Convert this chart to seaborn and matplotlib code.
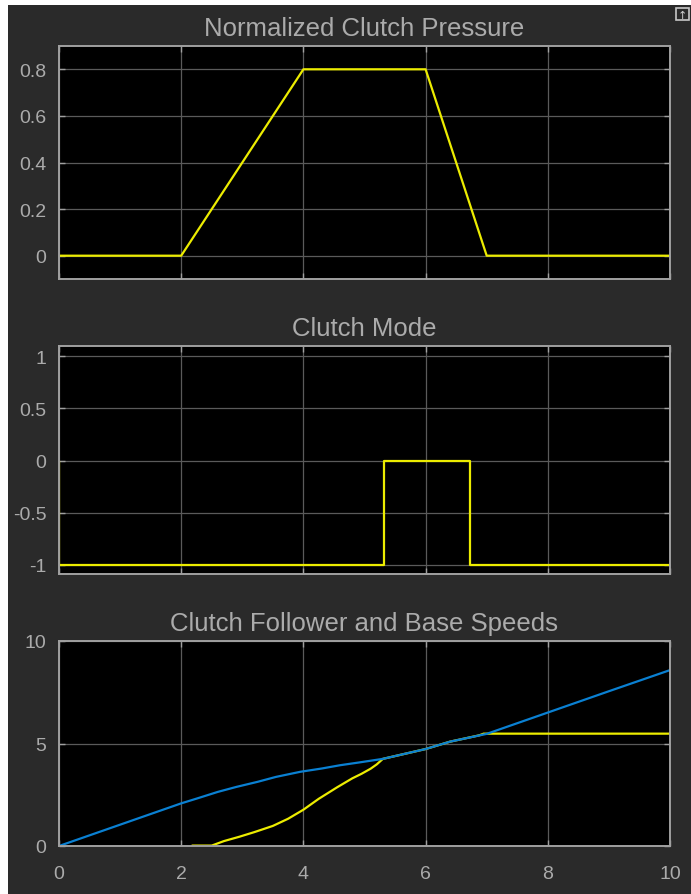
import numpy as np
import pandas as pd
import matplotlib
matplotlib.use("Agg")
import matplotlib.pyplot as plt
from matplotlib.patches import Rectangle
import seaborn as sns

# ---------------- data ----------------
pressure_t = [0, 2, 4, 6, 7, 10]
pressure_v = [0, 0, 0.8, 0.8, 0, 0]

mode_t = [0, 0, 5.32, 5.32, 6.72, 6.72, 10]
mode_v = [0, -1, -1, 0, 0, -1, -1]

base_t = [0, 2, 2.25, 2.6, 2.9, 3.25, 3.55, 3.95, 4.3, 4.6, 4.9, 5.3, 6.0, 6.4, 7.0, 8.0, 9.0, 10.0]
base_v = [0, 2.08, 2.31, 2.64, 2.88, 3.13, 3.37, 3.62, 3.78, 3.94, 4.07, 4.25, 4.73, 5.09, 5.47, 6.51, 7.55, 8.58]

foll_t = [2.18, 2.5, 2.6, 2.7, 2.95, 3.2, 3.5, 3.75, 4.0, 4.25, 4.55, 4.8, 4.95, 5.1, 5.2, 5.3,
          6.0, 6.4, 6.88, 6.95, 10.0]
foll_v = [0.02, 0.02, 0.13, 0.24, 0.45, 0.68, 0.98, 1.33, 1.77, 2.3, 2.86, 3.3, 3.52, 3.77, 3.98, 4.25,
          4.73, 5.09, 5.40, 5.48, 5.48]

titles = ["Normalized Clutch Pressure", "Clutch Mode", "Clutch Follower and Base Speeds"]
x_ticks = [0, 2, 4, 6, 8, 10]
p_yticks = [0, 0.2, 0.4, 0.6, 0.8]
p_ylabels = ["0", "0.2", "0.4", "0.6", "0.8"]
m_yticks = [-1, -0.5, 0, 0.5, 1]
m_ylabels = ["-1", "-0.5", "0", "0.5", "1"]
s_yticks = [0, 5, 10]
s_ylabels = ["0", "5", "10"]

# ---------------- style ----------------
sns.set_theme(style="dark")
FIG_BG = "#2a2a2a"
TXT = "#ababab"
SPINE = "#a0a0a0"
GRID = "#5a5a5a"
YEL = "#ecec00"
BLUE = "#0a80d2"
plt.rcParams["font.family"] = ["Liberation Sans", "DejaVu Sans"]

W, H = 691, 895
fig = plt.figure(figsize=(W / 100, H / 100), dpi=100, facecolor="white")
fig.patches.append(Rectangle((8 / W, 0), 1, (H - 6) / H, transform=fig.transFigure,
                             facecolor=FIG_BG, edgecolor="none", zorder=-10))

left, right = 59 / W, 670 / W
boxes = [(47, 280), (347, 575), (642, 847)]
axes = []
for top, bot in boxes:
    ax = fig.add_axes([left, 1 - bot / H, right - left, (bot - top) / H])
    axes.append(ax)

df_p = pd.DataFrame({"t": pressure_t, "v": pressure_v})
df_m = pd.DataFrame({"t": mode_t, "v": mode_v})
df_b = pd.DataFrame({"t": base_t, "v": base_v})
df_f = pd.DataFrame({"t": foll_t, "v": foll_v})

sns.lineplot(data=df_p, x="t", y="v", ax=axes[0], color=YEL, lw=1.6, sort=False, estimator=None)
sns.lineplot(data=df_m, x="t", y="v", ax=axes[1], color=YEL, lw=1.6, sort=False, estimator=None)
sns.lineplot(data=df_f, x="t", y="v", ax=axes[2], color=YEL, lw=1.6, sort=False, estimator=None)
sns.lineplot(data=df_b, x="t", y="v", ax=axes[2], color=BLUE, lw=1.6, sort=False, estimator=None)

ylims = [(-0.1, 0.9), (-1.09, 1.1), (0, 10)]
yt = [(p_yticks, p_ylabels), (m_yticks, m_ylabels), (s_yticks, s_ylabels)]
for i, ax in enumerate(axes):
    ax.set_facecolor("black")
    ax.set_xlim(0, 10)
    ax.set_ylim(*ylims[i])
    ax.set_xticks(x_ticks)
    ax.set_yticks(yt[i][0])
    ax.set_yticklabels(yt[i][1])
    if i < 2:
        ax.set_xticklabels([])
    else:
        ax.set_xticklabels([str(v) for v in x_ticks])
    ax.set_xlabel("")
    ax.set_ylabel("")
    ax.grid(True, color=GRID, lw=0.9)
    ax.set_axisbelow(True)
    for s in ax.spines.values():
        s.set_visible(True)
        s.set_color(SPINE)
        s.set_linewidth(1.4)
    ax.tick_params(axis="both", direction="in", length=4, width=1, color=SPINE,
                   labelcolor=TXT, labelsize=14, top=True, right=True,
                   bottom=True, left=True)
    ax.tick_params(axis="y", pad=9)
    ax.tick_params(axis="x", pad=14)
    ax.set_title(titles[i], color=TXT, fontsize=18.5, pad=8)

# undock icon (top right)
fig.patches.append(Rectangle((676 / W, 1 - 21 / H), 13 / W, 12 / H, transform=fig.transFigure,
                             facecolor="none", edgecolor="#c8c8c8", lw=1.2))
fig.text(682.5 / W, 1 - 16 / H, "\u2191", color="#d0d0d0", fontsize=8, ha="center", va="center",
         family=["DejaVu Sans"])

fig.savefig("out.png", dpi=100, facecolor=fig.get_facecolor())
